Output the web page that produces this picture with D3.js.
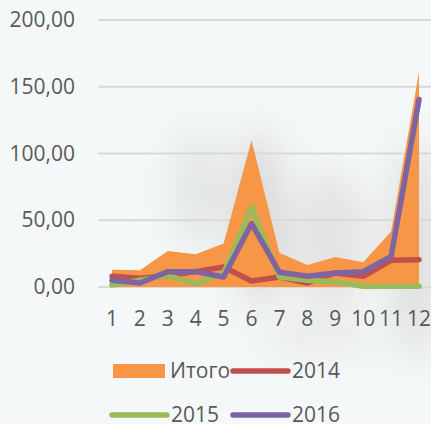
<!DOCTYPE html>
<html>
<head>
<meta charset="utf-8">
<script src="https://cdn.jsdelivr.net/npm/d3@7"></script>
<style>
  body { margin: 0; background: #f4f7f7; }
  svg { display: block; font-family: "Open Sans", sans-serif; }
</style>
</head>
<body>
<script>
// months 1..12
var months = ["1", "2", "3", "4", "5", "6", "7", "8", "9", "10", "11", "12"];

var total = [13, 12.5, 27, 24.5, 32.5, 110, 25.5, 16.5, 22.5, 18.5, 41.5, 161];
var s2014 = [8, 6.5, 8.5, 11.5, 15, 4.5, 7.5, 3, 10.5, 8, 20, 20.5];
var s2015 = [1.5, 5, 8.5, 2.5, 10, 60, 7.5, 5, 4, 0.5, 0.5, 0.5];
var s2016 = [5, 3, 11.5, 11.5, 7.5, 47.5, 11, 8, 10.5, 11.5, 23, 140.5];

var yTicks = [0, 50, 100, 150, 200];

var width = 431;
var height = 424;

var svg = d3.select("body")
    .append("svg")
    .attr("width", width)
    .attr("height", height);

// soft blurry background
var defs = svg.append("defs");
defs.append("filter")
    .attr("id", "blur")
    .attr("x", "-50%").attr("y", "-50%")
    .attr("width", "200%").attr("height", "200%")
  .append("feGaussianBlur")
    .attr("stdDeviation", 18);

svg.append("rect")
    .attr("width", width)
    .attr("height", height)
    .attr("fill", "#f5f8f8");

var blobs = svg.append("g").attr("filter", "url(#blur)");
blobs.append("ellipse").attr("cx", 260).attr("cy", 220).attr("rx", 22).attr("ry", 90).attr("fill", "#d6d8d6");
blobs.append("ellipse").attr("cx", 330).attr("cy", 240).attr("rx", 40).attr("ry", 70).attr("fill", "#e2e4e2");
blobs.append("ellipse").attr("cx", 415).attr("cy", 250).attr("rx", 25).attr("ry", 110).attr("fill", "#dcdfdd");
blobs.append("ellipse").attr("cx", 200).attr("cy", 190).attr("rx", 30).attr("ry", 60).attr("fill", "#e4e7e6");
blobs.append("ellipse").attr("cx", 320).attr("cy", 335).attr("rx", 60).attr("ry", 15).attr("fill", "#e6e8e7");

var x = d3.scaleBand()
    .domain(months)
    .range([98, 433]);

var y = d3.scaleLinear()
    .domain([0, 200])
    .range([287, 20]);

var cx = function(d, i) { return x(months[i]) + x.bandwidth() / 2; };

// grid
svg.append("g")
    .selectAll("line")
    .data(yTicks)
    .enter().append("line")
    .attr("x1", 98)
    .attr("x2", width)
    .attr("y1", function(d) { return y(d); })
    .attr("y2", function(d) { return y(d); })
    .attr("stroke", "#d9d9d9")
    .attr("stroke-width", 2);

// y labels
var fmt = function(d) { return d3.format(".2f")(d).replace(".", ","); };
svg.append("g")
    .selectAll("text")
    .data(yTicks)
    .enter().append("text")
    .attr("x", 75)
    .attr("y", function(d) { return y(d) + 7; })
    .attr("text-anchor", "end")
    .attr("font-size", 21)
    .attr("fill", "#595959")
    .text(fmt);

// area for total
var area = d3.area()
    .x(cx)
    .y0(y(0))
    .y1(function(d) { return y(d); });

svg.append("path")
    .datum(total)
    .attr("d", area)
    .attr("fill", "#f79646");

var line = d3.line()
    .x(cx)
    .y(function(d) { return y(d); });

var series = [
    { name: "2014", values: s2014, color: "#c0504d" },
    { name: "2015", values: s2015, color: "#9bbb59" },
    { name: "2016", values: s2016, color: "#8064a2" }
];

series.forEach(function(s) {
    svg.append("path")
        .datum(s.values)
        .attr("d", line)
        .attr("fill", "none")
        .attr("stroke", s.color)
        .attr("stroke-width", 5.5)
        .attr("stroke-linejoin", "round")
        .attr("stroke-linecap", "round");
});

// x labels
svg.append("g")
    .selectAll("text")
    .data(months)
    .enter().append("text")
    .attr("x", function(d) { return x(d) + x.bandwidth() / 2; })
    .attr("y", 326)
    .attr("text-anchor", "middle")
    .attr("font-size", 21)
    .attr("fill", "#595959")
    .text(function(d) { return d; });

// legend
var leg = svg.append("g");
leg.append("rect")
    .attr("x", 113).attr("y", 364)
    .attr("width", 52).attr("height", 14)
    .attr("fill", "#f79646");
leg.append("text")
    .attr("x", 170).attr("y", 378)
    .attr("font-size", 21).attr("fill", "#595959")
    .text("Итого");

var legItems = [
    { s: series[0], lx: 233, ly: 371 },
    { s: series[1], lx: 112, ly: 415 },
    { s: series[2], lx: 233, ly: 415 }
];
legItems.forEach(function(it) {
    leg.append("line")
        .attr("x1", it.lx).attr("x2", it.lx + 55)
        .attr("y1", it.ly).attr("y2", it.ly)
        .attr("stroke", it.s.color)
        .attr("stroke-width", 5.5)
        .attr("stroke-linecap", "round");
    leg.append("text")
        .attr("x", it.lx + 59).attr("y", it.ly + 7)
        .attr("font-size", 21).attr("fill", "#595959")
        .text(it.s.name);
});
</script>
</body>
</html>
